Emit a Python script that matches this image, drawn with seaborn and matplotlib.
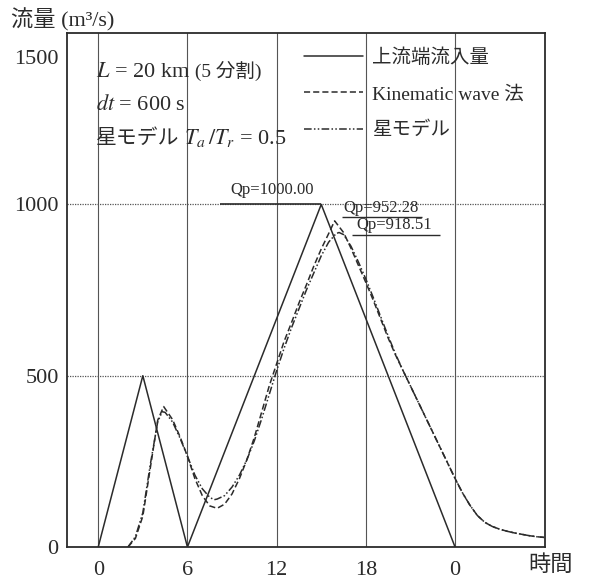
import numpy as np
import pandas as pd
import seaborn as sns
import matplotlib.pyplot as plt
import matplotlib.transforms as mtransforms
from matplotlib.offsetbox import TextArea, HPacker, VPacker, AnchoredOffsetbox

# inflow hydrograph at upstream end (triangles)
t_in = [0, 3, 6, 15, 24]
q_in = [0, 500, 0, 1000, 0]

# Kinematic wave method
t_kw = [2.0, 2.5, 3.0, 3.5, 4.0, 4.4, 5.0, 5.5, 6.0, 6.5, 7.0, 7.5, 8.0, 8.5, 9.0,
        9.5, 10.0, 10.5, 11.0, 11.5, 12.0, 12.5, 13.0, 13.5, 14.0, 14.5, 15.0, 15.5,
        15.9, 16.5, 17.0, 17.5, 18.0, 18.5, 19.0, 19.5, 20.0, 20.5, 21.0, 21.5, 22.0,
        22.5, 23.0, 23.5, 24.0, 24.5, 25.0, 25.5, 26.0, 26.5, 27.0, 27.5, 28.0, 28.5,
        29.0, 29.5, 30.0]
q_kw = [0, 25, 90, 230, 370, 410, 372, 322, 265, 200, 150, 120, 113, 125, 155,
        200, 255, 320, 395, 470, 535, 600, 655, 712, 765, 820, 870, 915,
        952, 918, 872, 822, 772, 720, 665, 610, 560, 515, 470, 425, 380,
        335, 290, 245, 200, 158, 122, 92, 72, 60, 52, 46, 41, 37,
        33, 30, 28]

# Star model (Ta/Tr = 0.5)
t_st = [2.0, 2.5, 3.0, 3.5, 4.0, 4.3, 4.5, 5.0, 5.5, 6.0, 6.5, 7.0, 7.5, 7.8, 8.0,
        8.5, 9.0, 9.5, 10.0, 10.5, 11.0, 11.5, 12.0, 12.5, 13.0, 13.5, 14.0, 14.5,
        15.0, 15.5, 16.0, 16.2, 16.5, 17.0, 17.5, 18.0, 18.5, 19.0, 19.5, 20.0, 20.5,
        21.0, 21.5, 22.0, 22.5, 23.0, 23.5, 24.0, 24.5, 25.0, 25.5, 26.0, 26.5, 27.0,
        27.5, 28.0, 28.5, 29.0, 29.5, 30.0]
q_st = [0, 30, 100, 240, 365, 395, 393, 365, 318, 265, 210, 170, 145, 138, 140,
        150, 175, 210, 255, 310, 375, 445, 515, 580, 640, 695, 750, 800,
        850, 890, 915, 918, 912, 878, 832, 782, 728, 672, 616, 563, 515,
        470, 425, 380, 335, 290, 245, 200, 158, 122, 92, 72, 60, 52,
        46, 41, 37, 33, 30, 28]

qp_labels = ["Qp=1000.00", "Qp=952.28", "Qp=918.51"]
x_ticks = [0, 6, 12, 18, 24]
x_ticklabels = ["0", "6", "12", "18", "0"]
y_ticks = [0, 500, 1000, 1500]

sns.set_style("white")
cjk = ['Liberation Serif', 'Noto Sans CJK JP']
plt.rcParams['font.family'] = cjk
plt.rcParams['mathtext.fontset'] = 'stix'
ink = '#2b2b2b'

fig = plt.figure(figsize=(5.95, 5.81), dpi=100)
ax = fig.add_axes([0.1126, 0.0585, 0.8034, 0.8845])

for x in x_ticks:
    ax.axvline(x, color='#555555', lw=0.8, zorder=0)
for y in [500, 1000]:
    ax.axhline(y, color='#555555', lw=0.9, ls=(0, (1, 1)), zorder=0)

df_in = pd.DataFrame({'t': t_in, 'q': q_in})
df_kw = pd.DataFrame({'t': t_kw, 'q': q_kw})
df_st = pd.DataFrame({'t': t_st, 'q': q_st})
sns.lineplot(data=df_in, x='t', y='q', ax=ax, color=ink, lw=1.1, label='上流端流入量')
sns.lineplot(data=df_kw, x='t', y='q', ax=ax, color=ink, lw=1.1, ls=(0, (4, 2)),
             label='Kinematic wave 法')
sns.lineplot(data=df_st, x='t', y='q', ax=ax, color=ink, lw=1.1,
             ls=(0, (5, 1.5, 1, 1.5, 1, 1.5)), label='星モデル')

ax.set_xlim(-2.1, 30.05)
ax.set_ylim(0, 1500)
ax.set_xticks(x_ticks)
ax.set_xticklabels(x_ticklabels)
ax.set_yticks(y_ticks)
ax.tick_params(length=0, labelsize=16, colors=ink)
ax.tick_params(axis='x', pad=10)
ax.tick_params(axis='y', pad=6)
for s in ax.spines.values():
    s.set_color(ink)
    s.set_linewidth(1.3)
ax.set_xlabel('')
ax.set_ylabel('')

# the 1500 label sits a little below the frame top in the reference
top_lbl = ax.get_yticklabels()[-1]
top_lbl.set_transform(top_lbl.get_transform() +
                      mtransforms.ScaledTranslation(0, -24 / 100, fig.dpi_scale_trans))

leg = ax.legend(loc='upper left', bbox_to_anchor=(0.46, 1.004), frameon=False,
                handlelength=3.0, handletextpad=0.5, labelspacing=0.95,
                prop={'family': cjk, 'size': 14})
for txt in leg.get_texts():
    txt.set_color(ink)

# peak annotations with underlines
ax.text(11.7, 1042, qp_labels[0], fontsize=12, ha='center', va='center', color=ink)
ax.hlines(1000, 8.2, 15, color=ink, lw=1.2)
ax.text(19.0, 990, qp_labels[1], fontsize=12, ha='center', va='center', color=ink)
ax.hlines(963, 16.4, 21.8, color=ink, lw=1.0)
ax.text(19.9, 940, qp_labels[2], fontsize=12, ha='center', va='center', color=ink)
ax.hlines(910, 17.1, 23.0, color=ink, lw=1.0)

# parameter text block
tp = dict(fontsize=16, color=ink, family=cjk)
line1 = HPacker(children=[TextArea('$L$ = 20 km', textprops=tp),
                          TextArea(' (5 分割)', textprops=dict(fontsize=14, color=ink, family=cjk))],
                sep=0, align='baseline')
line2 = TextArea('$dt$ = 600 s', textprops=tp)
line3 = HPacker(children=[TextArea('星モデル', textprops=dict(fontsize=15, color=ink, family=cjk)),
                          TextArea(' $T_a\\,/T_r$ = 0.5', textprops=tp)],
                sep=0, align='baseline')
block = VPacker(children=[line1, line2, line3], sep=9, align='left')
ab = AnchoredOffsetbox(loc='upper left', child=block, frameon=False,
                       bbox_to_anchor=(0.06, 0.945), bbox_transform=ax.transAxes,
                       pad=0, borderpad=0)
ax.add_artist(ab)

fig.text(0.018, 0.966, '流量 (m³/s)', fontsize=16, color=ink, va='center', family=cjk)
fig.text(0.888, 0.027, '時間', fontsize=16, color=ink, va='center', family=cjk)

fig.savefig('out.png', dpi=100)
